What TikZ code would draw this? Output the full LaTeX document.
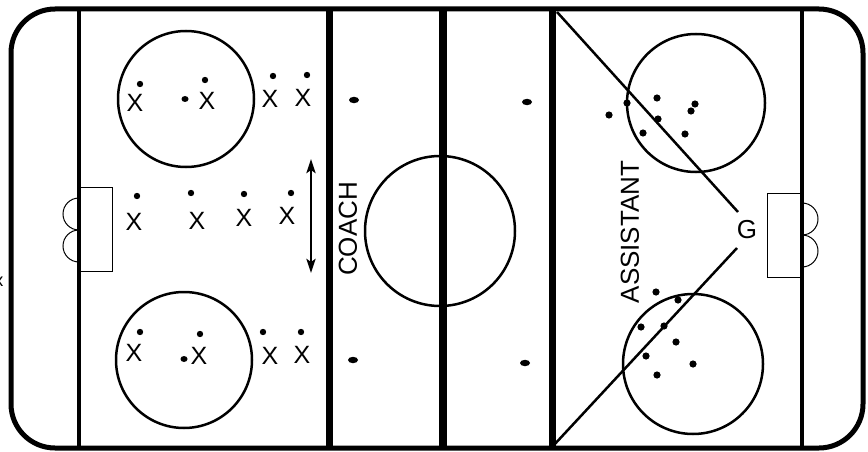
\documentclass[tikz,border=0pt]{standalone}
\usepackage{fontspec}
\setmainfont{Liberation Sans}
\usetikzlibrary{arrows.meta}
\begin{document}
\begin{tikzpicture}[x=1pt,y=-1pt,
  rink/.style={line width=5pt, rounded corners=44pt},
  goalline/.style={line width=3.5pt},
  blueline/.style={line width=7pt},
  redline/.style={line width=8pt},
  ring/.style={line width=2.5pt},
  net/.style={line width=1pt},
  player/.style={inner sep=0pt, font=\fontsize{25}{25}\selectfont},
  label/.style={inner sep=0pt, font=\fontsize{26}{26}\selectfont},
  lane/.style={line width=2.5pt},
  dbl/.style={line width=2.8pt, {Stealth[length=14pt,width=9pt,inset=3pt]}-{Stealth[length=14pt,width=9pt,inset=3pt]}}
]
\useasboundingbox (0,0) rectangle (868,452);
\fill[white] (0,0) rectangle (868,452);

% rink outline
\draw[rink] (11,9) rectangle (863,448);

% goal lines, blue lines, red line
\draw[goalline] (79,9) -- (79,448);
\draw[goalline] (802,9) -- (802,448);
\draw[blueline] (329,8) -- (329,449);
\draw[blueline] (552,8) -- (552,449);
\draw[redline] (443,8) -- (443,449);

% nets and creases
\draw[net] (79,187) -- (112,187) -- (112,271) -- (79,271);
\draw[net] (79,198) arc[start angle=90, end angle=270, radius=16pt];
\draw[net] (79,230) arc[start angle=90, end angle=270, radius=16pt];
\draw[net] (802,193) -- (767,193) -- (767,277) -- (802,277);
\draw[net] (802,203) arc[start angle=90, end angle=-90, radius=16pt];
\draw[net] (802,235) arc[start angle=90, end angle=-90, radius=16pt];

% circles
\draw[ring] (186,99) circle (68pt);
\draw[ring] (184,360) circle (68pt);
\draw[ring] (440,231) circle (75pt);
\draw[ring] (696,103) circle (69pt);
\draw[ring] (693,364) circle (70pt);

% neutral zone dots
\foreach \p in {(354,100),(353,360),(527,102),(525,363)}
  \fill \p ellipse [x radius=5pt, y radius=3.2pt];

% left side players
\node[player] (p1) at (135,103) {X};
\node[player] (p2) at (207,101) {X};
\node[player] (p3) at (270,99) {X};
\node[player] (p4) at (303,98) {X};
\node[player] (p5) at (134,222) {X};
\node[player] (p6) at (197,221) {X};
\node[player] (p7) at (244,218) {X};
\node[player] (p8) at (287,216) {X};
\node[player] (p9) at (134,353) {X};
\node[player] (p10) at (199,356) {X};
\node[player] (p11) at (270,356) {X};
\node[player] (p12) at (302,355) {X};
\node[player, font=\fontsize{18}{18}\selectfont] (cut) at (-1,282) {x};

\foreach \p in {(140,84),(205,80),(273,76),(307,75),
                (137,196),(191,193),(244,194),(291,193),
                (140,332),(200,334),(263,332),(301,332)}
  \fill \p circle (3.2pt);
\fill (185,99) ellipse [x radius=3.5pt, y radius=3pt];
\fill (184,359) ellipse [x radius=3.5pt, y radius=3pt];

% arrow
\coordinate (arrTop) at (311,159);
\coordinate (arrBot) at (311,273);
\draw[dbl] (arrTop) -- (arrBot);

% labels
\node[label, rotate=90] (coach) at (348,229) {COACH};
\node[label, rotate=90] (assistant) at (630,232) {ASSISTANT};
\node[label] (G) at (747,230) {G};

% lanes to goalie
\coordinate (bTop) at (557,12);
\coordinate (bBot) at (553,446);
\coordinate (gTop) at (738,212);
\coordinate (gBot) at (737,248);
\draw[lane] (bTop) -- (gTop);
\draw[lane] (gBot) -- (bBot);

% right side dots
\foreach \p in {(609,115),(627,103),(657,98),(695,104),(691,111),(658,119),(643,133),(685,134),
                (656,292),(678,300),(641,327),(664,326),(676,342),(646,356),(693,364),(657,375)}
  \fill \p circle (3.6pt);
\end{tikzpicture}
\end{document}
